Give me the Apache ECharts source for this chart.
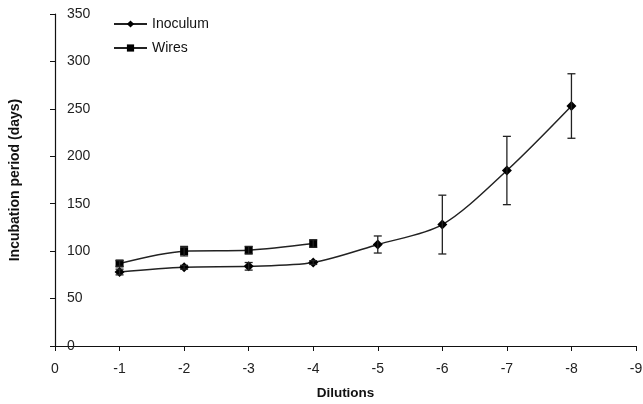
<!DOCTYPE html>
<html><head><meta charset="utf-8">
<script src="https://cdn.jsdelivr.net/npm/echarts@6/dist/echarts.min.js"></script>
<style>html,body{margin:0;padding:0;background:#fff}#c{width:643px;height:404px}</style>
</head><body><div id="c"></div>
<script>
const inocX = [-1, -2, -3, -4, -5, -6, -7, -8];
const inocY = [78, 83, 84, 88, 107, 128, 185, 253];
const inocErr = [3, 2, 4, 2, 9, 31, 36, 34];
const wireX = [-1, -2, -3, -4];
const wireY = [87, 100, 101, 108];
const wireErr = [3, 5, 4, 4];
const xTicks = [0, -1, -2, -3, -4, -5, -6, -7, -8, -9];

const chart = echarts.init(document.getElementById('c'));
const font = 'Arial, "Liberation Sans", sans-serif';
function errData(xs, ys, es) { return xs.map((x, i) => [x, ys[i] - es[i], ys[i] + es[i]]); }
function errSeries(data) {
  return {
    type: 'custom', data: data, z: 7, silent: true,
    encode: { x: 0, y: [1, 2] },
    renderItem: function (params, api) {
      const x = api.value(0);
      const lo = api.coord([x, api.value(1)]);
      const hi = api.coord([x, api.value(2)]);
      const w = 4;
      const st = { stroke: '#222', lineWidth: 1.3 };
      return { type: 'group', children: [
        { type: 'line', shape: { x1: lo[0], y1: lo[1], x2: hi[0], y2: hi[1] }, style: st },
        { type: 'line', shape: { x1: lo[0] - w, y1: lo[1], x2: lo[0] + w, y2: lo[1] }, style: st },
        { type: 'line', shape: { x1: hi[0] - w, y1: hi[1], x2: hi[0] + w, y2: hi[1] }, style: st }
      ]};
    }
  };
}
chart.setOption({
  animation: false,
  grid: { left: 55, right: 7, top: 14, bottom: 58, containLabel: false, outerBoundsMode: 'none' },
  legend: {
    orient: 'vertical', left: 108, top: 12, itemWidth: 33, itemHeight: 9, itemGap: 10,
    textStyle: { fontFamily: font, fontSize: 14, color: '#111' },
    data: ['Inoculum', 'Wires']
  },
  xAxis: {
    type: 'value', inverse: true, min: -9, max: 0, interval: 1,
    name: 'Dilutions', nameLocation: 'middle', nameGap: 40,
    nameTextStyle: { fontFamily: font, fontSize: 13.5, fontWeight: 'bold', color: '#111' },
    axisLine: { lineStyle: { color: '#111', width: 1.2 } },
    axisTick: { inside: false, length: 5, lineStyle: { color: '#111' } },
    axisLabel: { margin: 16, fontFamily: font, fontSize: 14, color: '#222',
      customValues: xTicks, formatter: v => String(v) },
    splitLine: { show: false }
  },
  yAxis: {
    type: 'value', min: 0, max: 350, interval: 50,
    name: 'Incubation period (days)', nameLocation: 'middle', nameGap: 33,
    nameTextStyle: { fontFamily: font, fontSize: 14, fontWeight: 'bold', color: '#111' },
    axisLine: { show: true, lineStyle: { color: '#111', width: 1.2 } },
    axisTick: { show: true, length: 5, lineStyle: { color: '#111' } },
    axisLabel: { inside: true, margin: 12, fontFamily: font, fontSize: 14, color: '#222' },
    splitLine: { show: false }
  },
  series: [
    { name: 'Inoculum', type: 'line', smooth: 0.3, symbol: 'diamond', symbolSize: 10,
      data: inocX.map((x, i) => [x, inocY[i]]),
      lineStyle: { color: '#222', width: 1.5 }, itemStyle: { color: '#000' }, z: 6 },
    { name: 'Wires', type: 'line', smooth: 0.3, symbol: 'rect', symbolSize: 8,
      data: wireX.map((x, i) => [x, wireY[i]]),
      lineStyle: { color: '#222', width: 1.5 }, itemStyle: { color: '#000' }, z: 6 },
    errSeries(errData(inocX, inocY, inocErr)),
    errSeries(errData(wireX, wireY, wireErr))
  ]
});
</script></body></html>
